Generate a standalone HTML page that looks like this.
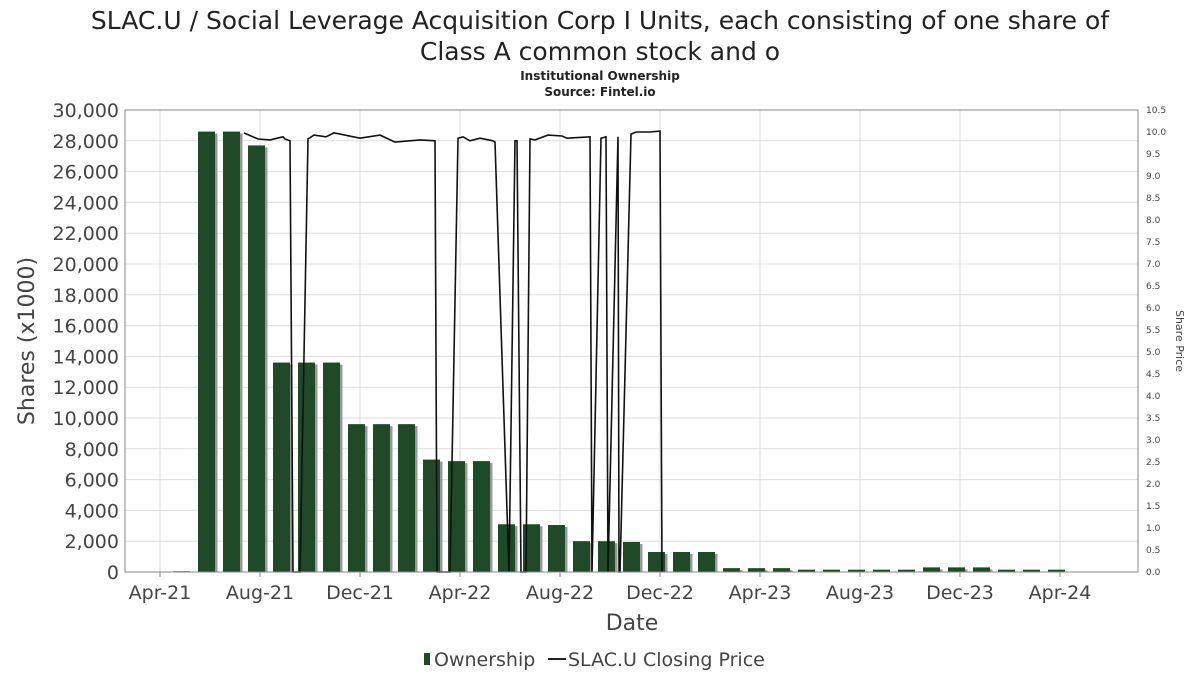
<!DOCTYPE html>
<html><head><meta charset="utf-8"><style>
body{margin:0;background:#fff;font-family:"DejaVu Sans","Liberation Sans",sans-serif;}
</style></head><body>
<svg id="chart" width="1200" height="675" xmlns="http://www.w3.org/2000/svg" font-family="DejaVu Sans, Liberation Sans, sans-serif">
<text x="600" y="29" font-size="25" text-anchor="middle" fill="#222">SLAC.U / Social Leverage Acquisition Corp I Units, each consisting of one share of</text>
<text x="600" y="60" font-size="25" text-anchor="middle" fill="#222">Class A common stock and o</text>
<text x="600" y="80" font-size="12" font-weight="bold" text-anchor="middle" fill="#222">Institutional Ownership</text>
<text x="600" y="96" font-size="12" font-weight="bold" text-anchor="middle" fill="#222">Source: Fintel.io</text>
<g id="grid"></g><g id="bars"></g><g id="line"></g><g id="axes"></g>
<text transform="translate(34,341) rotate(-90)" font-size="22" text-anchor="middle" fill="#444">Shares (x1000)</text>
<text transform="translate(1176,341) rotate(90)" font-size="11" text-anchor="middle" fill="#444">Share Price</text>
<text x="632" y="630" font-size="22" text-anchor="middle" fill="#444">Date</text>
<g>
<rect x="424" y="653" width="6" height="12" fill="#1e4a28"/>
<text x="434" y="666" font-size="19" fill="#444">Ownership</text>
<line x1="548" y1="659" x2="566" y2="659" stroke="#222" stroke-width="2"/>
<text x="568" y="666" font-size="19" fill="#444">SLAC.U Closing Price</text>
</g>
</svg>
<script>
const xTickLabels=["Apr-21","Aug-21","Dec-21","Apr-22","Aug-22","Dec-22","Apr-23","Aug-23","Dec-23","Apr-24"];
const barMonths=[0.86,1.86,2.86,3.86,4.86,5.86,6.86,7.86,8.86,9.86,10.86,11.86,12.86,13.86,14.86,15.86,16.86,17.86,18.86,19.86,20.86,21.86,22.86,23.86,24.86,25.86,26.86,27.86,28.86,29.86,30.86,31.86,32.86,33.86,34.86,35.86];
const barValues=[50,28600,28600,27700,13600,13600,13600,9600,9600,9600,7300,7200,7200,3100,3100,3050,2000,2000,1950,1300,1300,1300,250,250,250,150,150,150,150,150,300,300,300,150,150,150];
const priceMonths=[3.36,3.92,4.4,4.92,5.0,5.2,5.32,5.6,5.92,6.16,6.64,6.96,8.0,8.8,9.4,10.4,11.0,11.08,11.6,11.92,12.12,12.4,12.8,13.32,13.4,13.96,14.2,14.28,14.44,14.64,14.8,15.0,15.52,16.08,16.28,17.2,17.28,17.64,17.84,17.92,18.32,18.36,18.4,18.84,19.04,19.6,20.0,20.08];
const priceValues=[9.98,9.84,9.82,9.89,9.84,9.80,0,0,9.84,9.93,9.89,9.98,9.86,9.93,9.77,9.82,9.80,0,0,9.86,9.89,9.80,9.86,9.80,9.77,0,9.80,9.80,0,0,9.84,9.82,9.93,9.91,9.86,9.89,0,9.86,9.89,0,9.89,0,0,9.95,10.0,10.0,10.02,0];
const NS="http://www.w3.org/2000/svg";
const L=125,R=1138,T=110,B=572;
const xS=m=>160+25*m, yS=v=>B-(B-T)*v/30000, y2S=v=>B-(B-T)*v/10.5;
function mk(tag,attrs,parent){const e=document.createElementNS(NS,tag);for(const k in attrs)e.setAttribute(k,attrs[k]);parent.appendChild(e);return e;}
const grid=document.getElementById('grid'),axes=document.getElementById('axes'),bars=document.getElementById('bars'),line=document.getElementById('line');
for(let v=0;v<=30000;v+=2000){const y=yS(v);
 const g=mk('line',{x1:L,x2:R,y1:y,y2:y,stroke:'#ddd'},grid);
 
 
 const t=mk('text',{x:L-6,y:y+7,'font-size':19,'text-anchor':'end',fill:'#444'},axes);t.textContent=v.toLocaleString('en-US');
 
 
}
for(let i=0;i<=21;i++){const v=i*0.5,y=y2S(v);
 const t=mk('text',{x:R+8,y:y+3,'font-size':9,fill:'#444'},axes);t.textContent=v.toFixed(1);
 
 
}
xTickLabels.forEach((s,i)=>{const x=xS(i*4);
 const g=mk('line',{x1:x,x2:x,y1:T,y2:B,stroke:'#ddd'},grid);
 
 
 mk('line',{x1:x,x2:x,y1:B,y2:B+5,stroke:'#888'},axes);
 const t=mk('text',{x:x,y:B+27,'font-size':19,'text-anchor':'middle',fill:'#444'},axes);t.textContent=s;
 
 
});
const fr=mk('rect',{x:L,y:T,width:R-L,height:B-T,fill:'none',stroke:'#888'},axes);


barMonths.forEach((m,i)=>{const cx=xS(m),y=yS(barValues[i]),h=B-y;
 const s=mk('rect',{x:cx-6,y:y+2,width:17,height:Math.max(h-2,0),fill:'#999'},bars);
 
 
 const b=mk('rect',{x:cx-8.5,y:y,width:17,height:h,fill:'#1e4a28'},bars);
 
 
});
const pts=priceMonths.map((m,i)=>xS(m).toFixed(1)+','+y2S(priceValues[i]).toFixed(1)).join(' ');
const pl=mk('polyline',{points:pts,fill:'none',stroke:'#111','stroke-width':1.6},line);


</script>
</body></html>
